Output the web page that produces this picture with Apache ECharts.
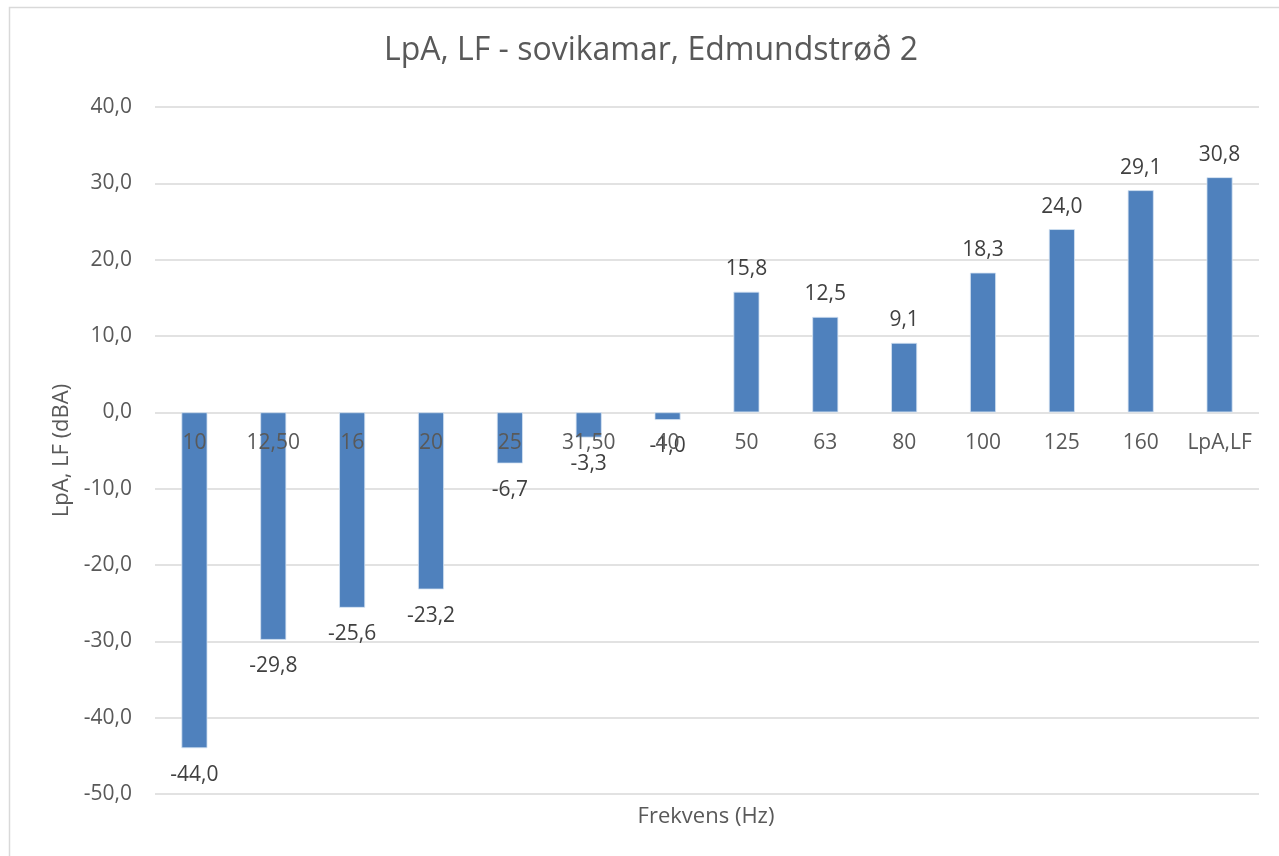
<!DOCTYPE html>
<html>
<head>
<meta charset="utf-8">
<script src="https://cdn.jsdelivr.net/npm/echarts@6/dist/echarts.min.js"></script>
<style>
  html, body { margin: 0; padding: 0; background: #fff; }
  #chart { width: 1279px; height: 856px; }
</style>
</head>
<body>
<div id="chart"></div>
<script>
const FONT = '"Open Sans", "Noto Sans", sans-serif';
const TITLE = 'LpA, LF - sovikamar, Edmundstrøð 2';
const Y_NAME = 'LpA, LF (dBA)';
const X_NAME = 'Frekvens (Hz)';

// frequency bands
const categories = ['10', '12,50', '16', '20', '25', '31,50', '40', '50', '63', '80', '100', '125', '160', 'LpA,LF'];
// level per band
const levels = [-44.0, -29.8, -25.6, -23.2, -6.7, -3.3, -1.0, 15.8, 12.5, 9.1, 18.3, 24.0, 29.1, 30.8];

const Y_MIN = -50, Y_MAX = 40;
const GRID_TOP = 107, GRID_BOTTOM = 62, H = 856;

function fmt(v) {
  return v.toFixed(1).replace('.', ',');
}

// category labels sit on the zero line, like the original
var plotH = H - GRID_TOP - GRID_BOTTOM;
var zeroShift = plotH * (0 - Y_MIN) / (Y_MAX - Y_MIN);

var chart = echarts.init(document.getElementById('chart'));

var barData = levels.map(function(v) {
  return {
    value: v,
    label: {
      position: v < 0 ? 'bottom' : 'top',
      distance: v < 0 ? 16 : 12
    }
  };
});

chart.setOption({
  backgroundColor: '#fff',
  animation: false,
  title: {
    text: TITLE,
    left: 646,
    top: 30,
    textAlign: 'center',
    textStyle: { fontFamily: FONT, fontSize: 32, fontWeight: 'normal', color: '#595959' }
  },
  grid: { left: 155, right: 20, top: GRID_TOP, bottom: GRID_BOTTOM },
  xAxis: {
    type: 'category',
    data: categories,
    position: 'bottom',
    offset: -zeroShift,
    z: 5,
    axisLine: { show: false, onZero: false },
    axisTick: { show: false },
    axisLabel: {
      interval: 0,
      margin: 20,
      fontFamily: FONT,
      fontSize: 21,
      color: '#595959'
    }
  },
  yAxis: {
    type: 'value',
    min: Y_MIN,
    max: Y_MAX,
    interval: 10,
    name: Y_NAME,
    nameLocation: 'middle',
    nameGap: 82,
    nameTextStyle: { fontFamily: FONT, fontSize: 22, color: '#595959' },
    axisLine: { show: false },
    axisTick: { show: false },
    axisLabel: {
      margin: 23,
      fontFamily: FONT,
      fontSize: 21,
      color: '#595959',
      formatter: fmt
    },
    splitLine: { lineStyle: { color: '#d9d9d9', width: 1.5 } }
  },
  series: [{
    type: 'bar',
    data: barData,
    barWidth: 26,
    z: 2,
    itemStyle: { color: '#4f81bd', borderColor: '#d6e3f2', borderWidth: 0.8 },
    label: {
      show: true,
      fontFamily: FONT,
      fontSize: 21,
      color: '#404040',
      formatter: function(p) { return fmt(p.value); }
    }
  }],
  graphic: [
    {
      type: 'rect',
      shape: { x: 9.5, y: 7.5, width: 1300, height: 900 },
      style: { fill: null, stroke: '#d9d9d9', lineWidth: 1.5 },
      silent: true,
      z: -1
    },
    {
      type: 'text',
      x: 706,
      y: 817,
      style: {
        text: X_NAME,
        font: '22px ' + FONT,
        fill: '#595959',
        align: 'center',
        verticalAlign: 'middle'
      }
    }
  ]
});
</script>
</body>
</html>
